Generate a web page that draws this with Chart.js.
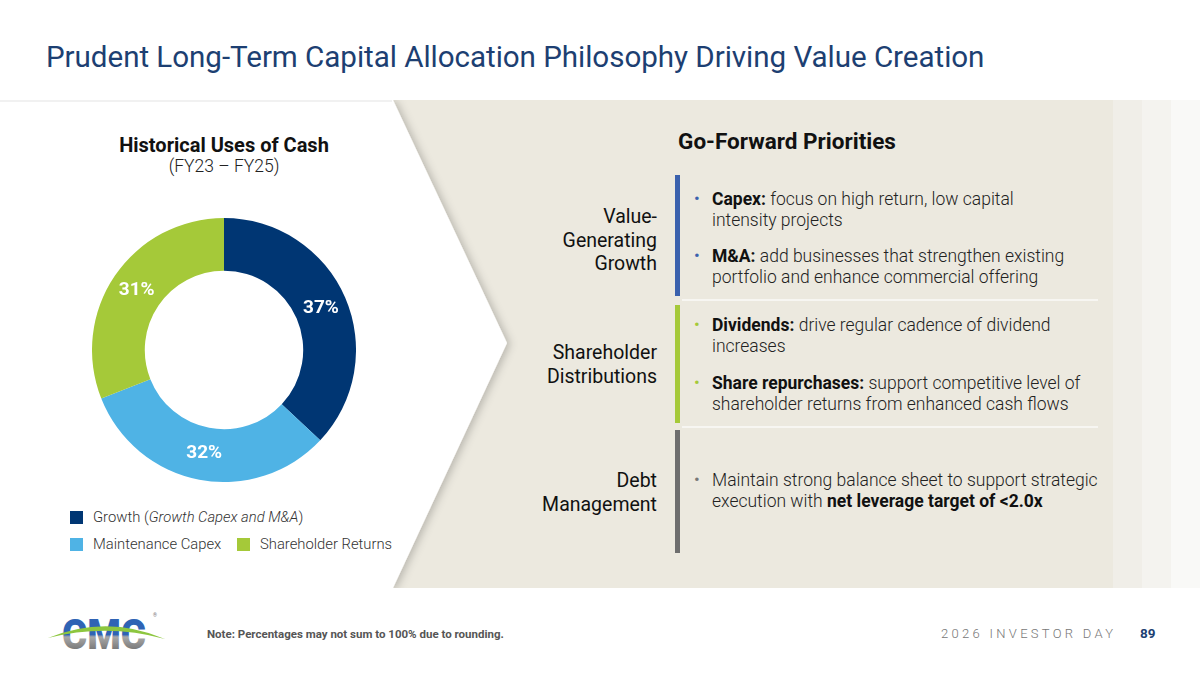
<!DOCTYPE html>
<html><head><meta charset="utf-8">
<script src="https://cdn.jsdelivr.net/npm/chart.js@4.4.1/dist/chart.umd.min.js"></script>
<style>
html,body{margin:0;padding:0;}
body{width:1200px;height:675px;position:relative;overflow:hidden;background:#fff;font-family:Roboto,"Noto Sans",sans-serif;}
.abs{position:absolute;}
#title{left:46px;top:40px;font-size:29.6px;color:#1d3f72;white-space:nowrap;letter-spacing:-0.05px;}
#bg{left:0;top:100px;width:1200px;height:488px;}
#htitle{left:74px;width:300px;text-align:center;top:133px;font-weight:700;font-size:20px;color:#111;}
#hsub{left:74px;width:300px;text-align:center;top:156px;font-size:17.5px;font-weight:300;color:#222;}
#chartbox{left:92px;top:218px;width:264px;height:264px;}
.leg{font-size:14.8px;font-weight:300;color:#333;white-space:nowrap;}
.sw{width:13px;height:13px;}
#gfp{left:600px;width:374px;text-align:center;top:128px;font-weight:700;font-size:22.5px;color:#111;}
.cat{right:543px;text-align:right;font-size:19.5px;line-height:23.5px;color:#111;white-space:nowrap;}
.vbar{left:675px;width:5px;}
.sep{left:682px;width:416px;height:2px;background:#f7f6f2;}
.bl{left:712px;font-size:17.5px;line-height:20.5px;font-weight:300;color:#222;white-space:nowrap;}
.bl b{color:#111;font-weight:700;}
.dot{font-size:17px;font-weight:400;}
#note{left:207px;top:627px;font-size:11.5px;font-weight:700;color:#555;}
#inv{left:941px;top:626px;font-size:13px;font-weight:300;color:#777;letter-spacing:3.3px;}
#pg{left:1140px;top:625px;font-size:13.5px;font-weight:700;color:#1d3f72;}
</style></head>
<body>
<div id="title" class="abs">Prudent Long-Term Capital Allocation Philosophy Driving Value Creation</div>
<svg id="bg" class="abs" width="1200" height="488" viewBox="0 100 1200 488">
  <defs>
    <filter id="sh" x="-10%" y="-10%" width="130%" height="130%">
      <feDropShadow dx="3" dy="1" stdDeviation="4" flood-color="#000" flood-opacity="0.22"/>
    </filter>
  </defs>
  <rect x="0" y="100" width="1113" height="488" fill="#ece9df"/>
  <rect x="1113" y="100" width="29" height="488" fill="#f0eee8"/>
  <rect x="1142" y="100" width="29" height="488" fill="#f4f3ef"/>
  <rect x="1171" y="100" width="29" height="488" fill="#f9f9f7"/>
  <polygon points="-10,100 393,100 507,343 393,588 -10,588" fill="#fff" filter="url(#sh)"/>
  <rect x="0" y="100" width="392" height="2" fill="#f1f1f1"/>
</svg>

<div id="htitle" class="abs">Historical Uses of Cash</div>
<div id="hsub" class="abs">(FY23 – FY25)</div>
<div id="chartbox" class="abs"><canvas id="c"></canvas></div>

<div class="abs sw" style="left:70px;top:511px;background:#003673"></div>
<div class="abs leg" style="left:93px;top:508px">Growth (<i>Growth Capex and M&amp;A</i>)</div>
<div class="abs sw" style="left:70px;top:538px;background:#4fb3e5"></div>
<div class="abs leg" style="left:93px;top:535px">Maintenance Capex</div>
<div class="abs sw" style="left:237px;top:538px;background:#a5c939"></div>
<div class="abs leg" style="left:260px;top:535px">Shareholder Returns</div>

<div id="gfp" class="abs">Go-Forward Priorities</div>

<div class="abs cat" style="top:205px">Value-<br>Generating<br>Growth</div>
<div class="abs cat" style="top:341px">Shareholder<br>Distributions</div>
<div class="abs cat" style="top:469px">Debt<br>Management</div>

<div class="abs vbar" style="top:175px;height:121px;background:#3a61ad"></div>
<div class="abs vbar" style="top:305px;height:118px;background:#a5c939"></div>
<div class="abs vbar" style="top:430px;height:123px;background:#6e6e6e"></div>
<div class="abs sep" style="top:299px"></div>
<div class="abs sep" style="top:426px"></div>

<div class="abs bl dot" style="left:694px;top:188px;color:#3a61ad">•</div>
<div class="abs bl" style="top:189px"><b>Capex:</b> focus on high return, low capital<br>intensity projects</div>
<div class="abs bl dot" style="left:694px;top:245px;color:#3a61ad">•</div>
<div class="abs bl" style="top:246px"><b>M&amp;A:</b> add businesses that strengthen existing<br>portfolio and enhance commercial offering</div>
<div class="abs bl dot" style="left:694px;top:314px;color:#a5c939">•</div>
<div class="abs bl" style="top:315px"><b>Dividends:</b> drive regular cadence of dividend<br>increases</div>
<div class="abs bl dot" style="left:694px;top:372px;color:#a5c939">•</div>
<div class="abs bl" style="top:373px"><b>Share repurchases:</b> support competitive level of<br>shareholder returns from enhanced cash flows</div>
<div class="abs bl dot" style="left:694px;top:469px;color:#777">•</div>
<div class="abs bl" style="top:470px">Maintain strong balance sheet to support strategic<br>execution with <b>net leverage target of &lt;2.0x</b></div>

<svg class="abs" style="left:40px;top:606px" width="140" height="54" viewBox="0 0 140 54">
  <defs>
    <linearGradient id="lg" x1="0" y1="0" x2="0" y2="1">
      <stop offset="0" stop-color="#2f63b4"/><stop offset="0.5" stop-color="#2f63b4"/>
      <stop offset="0.55" stop-color="#a8a8a8"/><stop offset="0.8" stop-color="#7a7a7a"/><stop offset="1" stop-color="#9a9a9a"/>
    </linearGradient>
  </defs>
  <text x="22" y="43" font-family="Roboto,sans-serif" font-weight="900" font-size="42" fill="url(#lg)" textLength="84" lengthAdjust="spacingAndGlyphs">CMC</text>
  <path d="M8,32 Q67,8 125,33 Q67,17 8,32 Z" fill="#8dc63f"/>
  <text x="113" y="11" font-size="5" fill="#777" font-family="Roboto">®</text>
</svg>
<div id="note" class="abs">Note: Percentages may not sum to 100% due to rounding.</div>
<div id="inv" class="abs">2026 INVESTOR DAY</div>
<div id="pg" class="abs">89</div>

<script>
const categories = ["Growth (Growth Capex and M&A)", "Maintenance Capex", "Shareholder Returns"];
const shares = [37, 32, 31];
const colors = ["#003673", "#4fb3e5", "#a5c939"];

const labelPlugin = {
  id: "sliceLabels",
  afterDatasetsDraw(chart) {
    const ctx = chart.ctx;
    const meta = chart.getDatasetMeta(0);
    ctx.save();
    ctx.font = "700 19px Roboto, sans-serif";
    ctx.fillStyle = "#ffffff";
    ctx.textAlign = "center";
    ctx.textBaseline = "middle";
    meta.data.forEach((arc, i) => {
      const p = arc.tooltipPosition();
      ctx.fillText(shares[i] + "%", p.x, p.y);
    });
    ctx.restore();
  }
};

new Chart(document.getElementById("c"), {
  type: "doughnut",
  data: {
    labels: categories,
    datasets: [{ data: shares, backgroundColor: colors, borderWidth: 0, hoverOffset: 0 }]
  },
  options: {
    responsive: true,
    maintainAspectRatio: false,
    animation: false,
    cutout: "60%",
    rotation: 0,
    layout: { padding: 0 },
    plugins: { legend: { display: false }, tooltip: { enabled: false } }
  },
  plugins: [labelPlugin]
});
</script>
</body></html>
